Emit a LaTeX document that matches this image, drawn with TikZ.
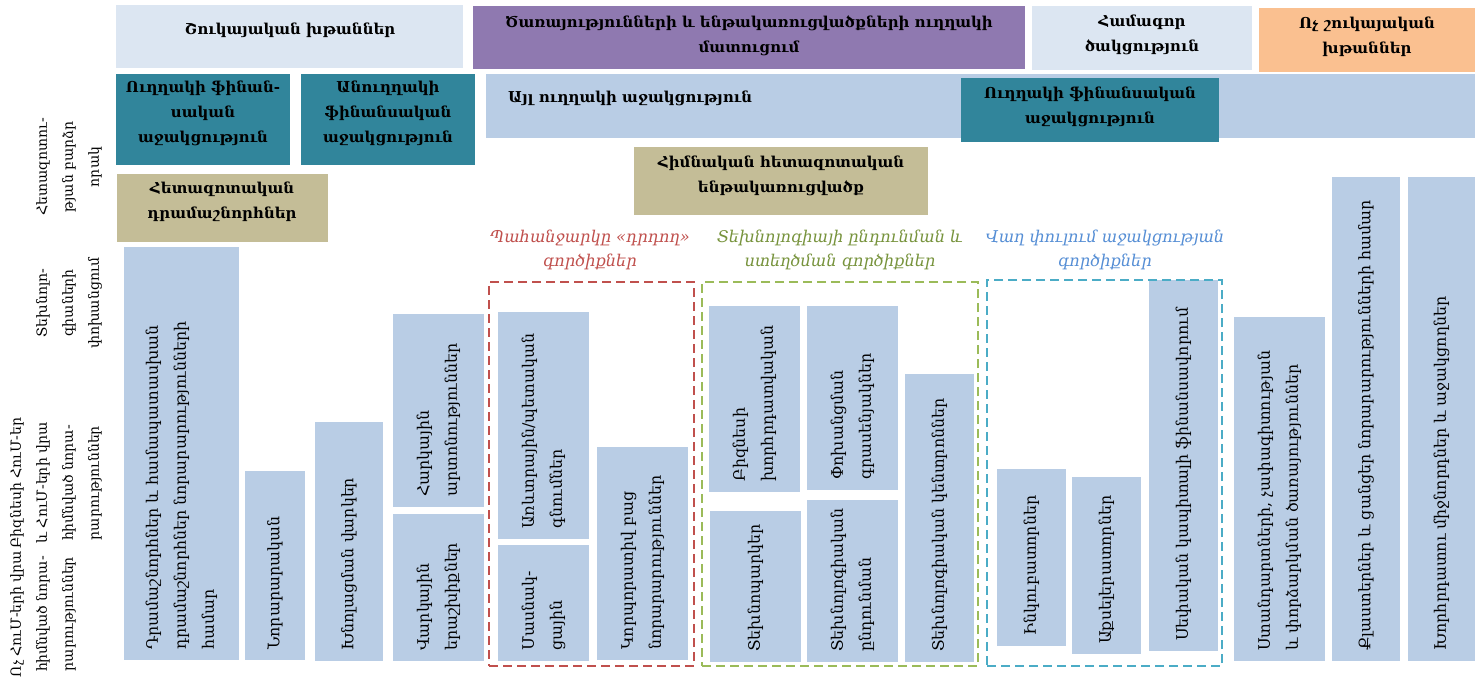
\documentclass[tikz,border=0pt]{standalone}
\usepackage{fontspec}
\setmainfont{DejaVu Serif}
\definecolor{hdlight}{RGB}{220,230,242}
\definecolor{hdpurple}{RGB}{143,121,176}
\definecolor{hdorange}{RGB}{250,192,144}
\definecolor{boxblue}{RGB}{185,205,229}
\definecolor{finteal}{RGB}{49,133,155}
\definecolor{resgold}{RGB}{196,189,151}
\definecolor{pullred}{RGB}{192,80,77}
\definecolor{techgreen}{RGB}{155,187,89}
\definecolor{techtext}{RGB}{119,147,60}
\definecolor{earlycyan}{RGB}{75,172,198}
\definecolor{earlytext}{RGB}{85,142,213}
% a filled cell: name, colour, left, top, width, height (pixel units, y downwards)
\newcommand{\cellbox}[6]{\node[cell,fill=#2,minimum width=#5pt,minimum height=#6pt] (#1) at (#3,#4) {};}
% upright text set bottom-to-top from the foot of a cell
\newcommand{\celltext}[2]{\node[vtext] (#1-t) at ([yshift=10pt]#1.south) {#2};}
\begin{document}
\begin{tikzpicture}[x=1pt,y=-1pt,
  cell/.style={anchor=north west,inner sep=0pt,outer sep=0pt},
  hdtext/.style={font=\fontsize{15}{25}\selectfont\bfseries,align=center,inner sep=0pt},
  vtext/.style={font=\fontsize{15.8}{28}\selectfont,rotate=90,anchor=west,align=left,inner sep=0pt},
  sidetext/.style={font=\fontsize{14}{26}\selectfont,rotate=90,align=center,inner sep=0pt},
  grouptext/.style={font=\fontsize{16.2}{24}\selectfont\itshape,align=center,inner sep=0pt},
  groupframe/.style={cell,draw=#1,line width=2.2pt,dash pattern=on 9pt off 5pt}]
\useasboundingbox (0,0) rectangle (1476,677);
\fill[white] (0,0) rectangle (1476,677);

% ---- column headings
\cellbox{hdA}{hdlight}{116}{5}{347}{63}
\node[hdtext] (hdA-t) at (290,30) {Շուկայական խթաններ};
\cellbox{hdB}{hdpurple}{473}{6}{552}{63}
\node[hdtext] (hdB-t) at (749,36) {Ծառայությունների և ենթակառուցվածքների ուղղակի\\մատուցում};
\cellbox{hdC}{hdlight}{1032}{6}{220}{64}
\node[hdtext] (hdC-t) at (1142,35) {Համագոր\\ծակցություն};
\cellbox{hdD}{hdorange}{1259}{8}{216}{64}
\node[hdtext] (hdD-t) at (1367,37) {Ոչ շուկայական\\խթաններ};

% ---- support types
\cellbox{ayl}{boxblue}{486}{74}{989}{64}
\node[hdtext,anchor=west] (ayl-t) at (508,98) {Այլ ուղղակի աջակցություն};
\cellbox{tealA}{finteal}{116}{74}{174}{91}
\node[hdtext] (tealA-t) at (203,113) {Ուղղակի ֆինան-\\սական\\աջակցություն};
\cellbox{tealB}{finteal}{301}{74}{174}{91}
\node[hdtext] (tealB-t) at (388,113) {Անուղղակի\\ֆինանսական\\աջակցություն};
\cellbox{tealC}{finteal}{961}{78}{258}{64}
\node[hdtext] (tealC-t) at (1090,107) {Ուղղակի ֆինանսական\\աջակցություն};
\cellbox{goldA}{resgold}{117}{174}{211}{68}
\node[hdtext] (goldA-t) at (222,202) {Հետազոտական\\դրամաշնորհներ};
\cellbox{goldB}{resgold}{634}{147}{294}{68}
\node[hdtext] (goldB-t) at (781,176) {Հիմնական հետազոտական\\ենթակառուցվածք};

% ---- row headings
\node[sidetext] (rowA) at (69,167) {Հետազոտու-\\թյան բարձր\\որակ};
\node[sidetext] (rowB) at (69,303) {Տեխնոլո-\\գիաների\\փոխանցում};
\node[sidetext] (rowC) at (56,483) {Բիզնեսի ՀուՄ-եր\\և ՀուՄ-երի վրա\\հիմնված նորա-\\րարություններ};
\node[sidetext] (rowD) at (43,614) {Ոչ ՀուՄ-երի վրա\\հիմնված նորա-\\րարություններ};

% ---- instrument groups
\node[grouptext,text=pullred] (pull-t) at (590,250) {Պահանջարկը «դրդող»\\գործիքներ};
\node[grouptext,text=techtext] (tech-t) at (840,250) {Տեխնոլոգիայի ընդունման և\\ստեղծման գործիքներ};
\node[grouptext,text=earlytext] (early-t) at (1105,250) {Վաղ փուլում աջակցության\\գործիքներ};

% ---- instruments
\cellbox{l1}{boxblue}{124}{247}{115}{413}
\celltext{l1}{Դրամաշնորհներ և համապատասխան\\դրամաշնորհներ նորարարությունների\\համար}
\cellbox{l2}{boxblue}{245}{471}{60}{189}
\celltext{l2}{Նորարարական}
\cellbox{l3}{boxblue}{315}{422}{68}{239}
\celltext{l3}{Խնոլացման վարկեր}
\cellbox{l4}{boxblue}{393}{314}{91}{193}
\celltext{l4}{Հարկային\\արտոնություններ}
\cellbox{l5}{boxblue}{393}{514}{91}{147}
\celltext{l5}{Վարկային\\երաշխիքներ}

\cellbox{pa}{boxblue}{498}{312}{91}{227}
\celltext{pa}{Առևտրային/պետական\\գնումներ}
\cellbox{pb}{boxblue}{498}{545}{91}{116}
\celltext{pb}{Մասնակ-\\ցային}
\cellbox{pc}{boxblue}{597}{447}{91}{213}
\celltext{pc}{Կորպորատիվ բաց\\նորարարություններ}

\cellbox{ga}{boxblue}{709}{306}{91}{186}
\celltext{ga}{Բիզնեսի\\խորհրդատվական}
\cellbox{gb}{boxblue}{710}{511}{91}{151}
\celltext{gb}{Տեխնոպարկեր}
\cellbox{gc}{boxblue}{807}{306}{91}{184}
\celltext{gc}{Փոխանցման\\գրասենյակներ}
\cellbox{gd}{boxblue}{807}{500}{91}{162}
\celltext{gd}{Տեխնոլոգիական\\ընդունման}
\cellbox{ge}{boxblue}{905}{374}{69}{288}
\celltext{ge}{Տեխնոլոգիական կենտրոններ}

\cellbox{ea}{boxblue}{997}{469}{69}{177}
\celltext{ea}{Ինկուբատորներ}
\cellbox{eb}{boxblue}{1072}{477}{69}{177}
\celltext{eb}{Աքսելերատորներ}
\cellbox{ec}{boxblue}{1149}{280}{69}{371}
\celltext{ec}{Սեփական կապիտալի ֆինանսավորում}

\cellbox{ra}{boxblue}{1234}{317}{91}{344}
\celltext{ra}{Ստանդարտների, չափագիտության\\և փորձարկման ծառայություններ}
\cellbox{rb}{boxblue}{1332}{177}{68}{484}
\celltext{rb}{Քլաստերներ և ցանցեր նորարարությունների համար}
\cellbox{rc}{boxblue}{1408}{177}{67}{484}
\celltext{rc}{Խորհրդատու միջնորդներ և աջակցողներ}

% ---- dashed group frames
\node[groupframe=pullred,minimum width=205pt,minimum height=384pt] (pullframe) at (489,282) {};
\node[groupframe=techgreen,minimum width=276pt,minimum height=384pt] (techframe) at (702,282) {};
\node[groupframe=earlycyan,minimum width=235pt,minimum height=386pt] (earlyframe) at (987,280) {};
\end{tikzpicture}
\end{document}
